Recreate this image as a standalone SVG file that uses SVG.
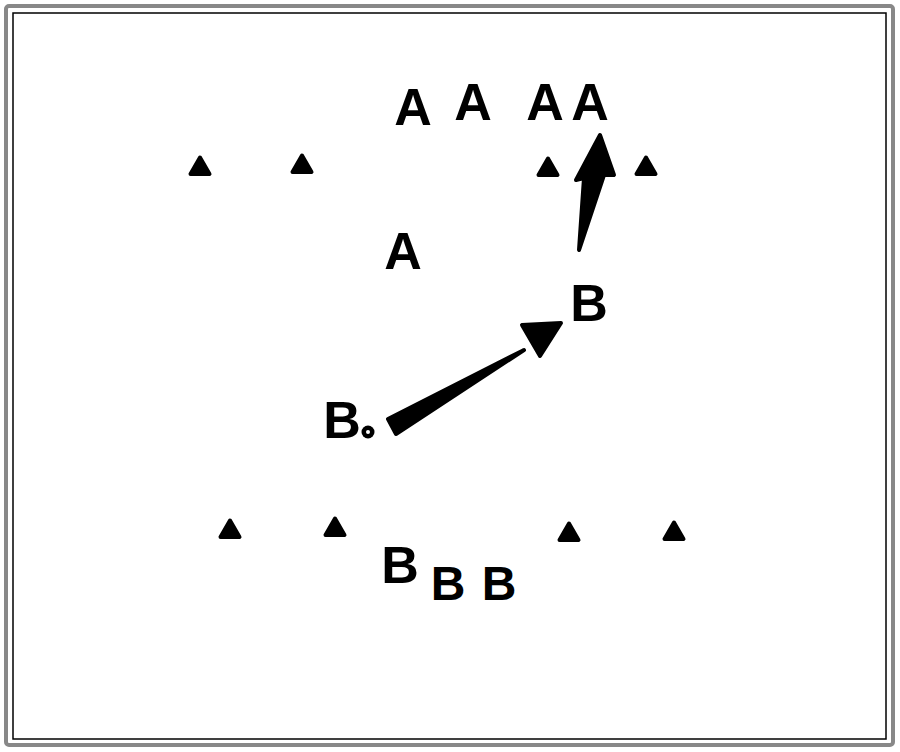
<svg xmlns="http://www.w3.org/2000/svg" width="900" height="752" viewBox="0 0 900 752">
<style>
.lbl{font-family:"Liberation Sans","DejaVu Sans",sans-serif;font-weight:bold;font-size:52px;fill:#000;text-anchor:middle}
.mk{fill:#000;stroke:#000;stroke-width:4;stroke-linejoin:round}
</style>
<defs>
<polygon id="tri" class="mk" points="0,-9.5 9.5,7 -9.5,7"/>
</defs>
<rect x="0" y="0" width="900" height="752" fill="#fff"/>
<rect x="6" y="6" width="887" height="739" fill="none" stroke="#888" stroke-width="4" rx="3"/>
<rect x="13" y="13" width="873" height="726" fill="none" stroke="#000" stroke-width="1.5"/>
<g id="markers">
<use href="#tri" x="200" y="167"/>
<use href="#tri" x="302" y="165"/>
<use href="#tri" x="548" y="168"/>
<use href="#tri" x="646" y="167"/>
<use href="#tri" x="230" y="530"/>
<use href="#tri" x="335" y="528"/>
<use href="#tri" x="569" y="533"/>
<use href="#tri" x="674" y="532"/>
</g>
<g id="labels">
<text class="lbl" x="413" y="125">A</text>
<text class="lbl" x="473" y="120">A</text>
<text class="lbl" x="545" y="120">A</text>
<text class="lbl" x="590" y="120">A</text>
<text class="lbl" x="403" y="269">A</text>
<text class="lbl" x="342" y="438">B</text>
<text class="lbl" x="589" y="321">B</text>
<text class="lbl" x="400" y="583">B</text>
<text class="lbl" x="448" y="600" style="font-size:48px">B</text>
<text class="lbl" x="499" y="600" style="font-size:48px">B</text>
</g>
<g id="connectors">
<circle cx="368" cy="432" r="6.5" fill="#000"/>
<circle cx="368" cy="432" r="2" fill="#fff"/>
<polygon class="mk" stroke-width="3" points="388,419 396,434 524,350"/>
<polygon class="mk" points="522,325 561,323 540,356"/>
<polygon class="mk" stroke-width="2" points="579,250 584,178 576,180 600,135 614,175 604,175"/>
</g>
</svg>
